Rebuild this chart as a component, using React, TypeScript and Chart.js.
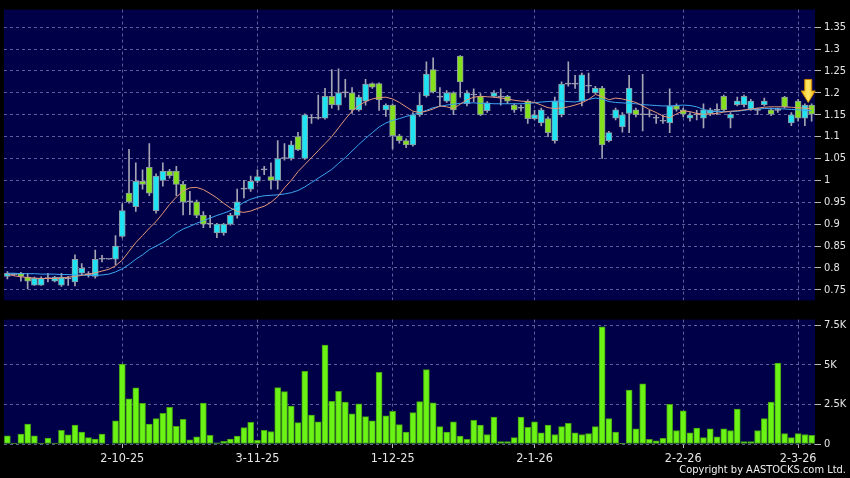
import React, { useEffect, useRef } from "react";
import { Chart, registerables } from "chart.js";

Chart.register(...registerables);

// ---- data (one entry per trading day, index 0..119) ----
const OPEN = [
  0.781, 0.785, 0.788, 0.779, 0.761, 0.761, 0.776, 0.770, 0.761, 0.775,
  0.768, 0.788, 0.785, 0.781, 0.820, 0.820, 0.820, 0.872, 0.971, 0.940,
  0.998, 1.030, 0.931, 1.000, 1.021, 1.021, 0.991, 0.951, 0.951, 0.920,
  0.900, 0.880, 0.880, 0.900, 0.920, 0.980, 0.980, 0.998, 1.024, 1.009,
  1.000, 1.050, 1.050, 1.100, 1.050, 1.142, 1.142, 1.142, 1.192, 1.172,
  1.200, 1.200, 1.161, 1.181, 1.221, 1.221, 1.161, 1.172, 1.102, 1.091,
  1.081, 1.150, 1.193, 1.253, 1.190, 1.181, 1.200, 1.284, 1.175, 1.195,
  1.192, 1.159, 1.192, 1.190, 1.192, 1.172, 1.165, 1.181, 1.141, 1.131,
  1.141, 1.091, 1.150, 1.220, 1.220, 1.181, 1.215, 1.200, 1.211, 1.091,
  1.142, 1.122, 1.153, 1.161, 1.150, 1.150, 1.142, 1.135, 1.131, 1.170,
  1.161, 1.142, 1.150, 1.142, 1.153, 1.160, 1.192, 1.142, 1.173, 1.173,
  1.162, 1.160, 1.173, 1.161, 1.160, 1.190, 1.131, 1.181, 1.142, 1.172,
];
const HIGH = [
  0.792, 0.787, 0.790, 0.788, 0.779, 0.780, 0.788, 0.781, 0.788, 0.781,
  0.830, 0.810, 0.792, 0.841, 0.829, 0.820, 0.874, 0.947, 1.071, 1.040,
  1.024, 1.084, 1.015, 1.040, 1.025, 1.032, 0.998, 0.975, 0.955, 0.929,
  0.920, 0.902, 0.902, 0.925, 0.980, 1.000, 1.010, 1.024, 1.032, 1.040,
  1.091, 1.084, 1.090, 1.110, 1.152, 1.150, 1.195, 1.210, 1.253, 1.255,
  1.231, 1.212, 1.195, 1.231, 1.223, 1.223, 1.175, 1.175, 1.105, 1.095,
  1.155, 1.198, 1.271, 1.280, 1.212, 1.205, 1.202, 1.285, 1.205, 1.209,
  1.198, 1.180, 1.205, 1.209, 1.194, 1.175, 1.172, 1.184, 1.160, 1.165,
  1.145, 1.190, 1.225, 1.271, 1.240, 1.245, 1.245, 1.215, 1.215, 1.112,
  1.165, 1.155, 1.240, 1.165, 1.242, 1.160, 1.150, 1.150, 1.209, 1.175,
  1.165, 1.155, 1.160, 1.175, 1.165, 1.175, 1.195, 1.155, 1.190, 1.195,
  1.185, 1.165, 1.188, 1.165, 1.165, 1.192, 1.155, 1.185, 1.175, 1.175,
];
const LOW = [
  0.775, 0.783, 0.770, 0.752, 0.760, 0.760, 0.768, 0.768, 0.758, 0.760,
  0.759, 0.785, 0.779, 0.777, 0.814, 0.820, 0.807, 0.870, 0.948, 0.929,
  0.980, 0.965, 0.925, 0.987, 1.005, 0.965, 0.921, 0.922, 0.915, 0.892,
  0.892, 0.869, 0.875, 0.898, 0.914, 0.960, 0.975, 0.995, 1.013, 0.980,
  0.980, 1.046, 1.046, 1.068, 1.048, 1.130, 1.140, 1.140, 1.165, 1.161,
  1.190, 1.153, 1.158, 1.172, 1.210, 1.160, 1.146, 1.072, 1.085, 1.075,
  1.078, 1.146, 1.190, 1.200, 1.170, 1.178, 1.150, 1.190, 1.170, 1.179,
  1.148, 1.155, 1.190, 1.172, 1.175, 1.155, 1.158, 1.130, 1.138, 1.125,
  1.100, 1.085, 1.145, 1.215, 1.210, 1.170, 1.200, 1.198, 1.050, 1.088,
  1.138, 1.110, 1.109, 1.145, 1.113, 1.145, 1.130, 1.130, 1.109, 1.158,
  1.145, 1.135, 1.138, 1.120, 1.148, 1.150, 1.158, 1.120, 1.170, 1.168,
  1.160, 1.150, 1.170, 1.148, 1.155, 1.165, 1.125, 1.135, 1.125, 1.135,
];
const CLOSE = [
  0.788, 0.785, 0.781, 0.770, 0.777, 0.777, 0.776, 0.779, 0.779, 0.775,
  0.820, 0.799, 0.785, 0.820, 0.820, 0.820, 0.850, 0.931, 0.951, 0.998,
  0.991, 0.971, 1.010, 1.021, 1.011, 0.991, 0.951, 0.951, 0.920, 0.900,
  0.900, 0.900, 0.900, 0.920, 0.951, 0.980, 0.998, 1.009, 1.024, 1.000,
  1.050, 1.050, 1.081, 1.070, 1.150, 1.142, 1.142, 1.192, 1.173, 1.200,
  1.200, 1.161, 1.190, 1.220, 1.213, 1.184, 1.172, 1.102, 1.091, 1.081,
  1.150, 1.172, 1.243, 1.202, 1.190, 1.200, 1.161, 1.225, 1.200, 1.195,
  1.150, 1.177, 1.200, 1.190, 1.181, 1.161, 1.165, 1.141, 1.150, 1.161,
  1.109, 1.181, 1.220, 1.220, 1.220, 1.241, 1.215, 1.211, 1.081, 1.109,
  1.161, 1.150, 1.211, 1.150, 1.150, 1.150, 1.142, 1.135, 1.170, 1.162,
  1.151, 1.149, 1.150, 1.161, 1.161, 1.160, 1.161, 1.151, 1.181, 1.192,
  1.181, 1.160, 1.181, 1.151, 1.160, 1.168, 1.150, 1.142, 1.172, 1.151,
];
const VOLUME_K = [
  0.52, 0.06, 0.62, 1.25, 0.52, 0.06, 0.37, 0.06, 0.87, 0.58,
  1.19, 0.75, 0.40, 0.31, 0.62, 0.00, 1.46, 5.04, 2.85, 3.54,
  2.56, 1.25, 1.60, 1.94, 2.31, 1.12, 1.56, 0.27, 0.46, 2.58,
  0.54, 0.08, 0.17, 0.31, 0.50, 1.04, 1.37, 0.23, 0.87, 0.79,
  3.56, 3.31, 2.40, 1.35, 4.58, 1.83, 1.40, 6.25, 2.70, 3.33,
  2.65, 1.90, 2.54, 1.73, 1.46, 4.52, 1.77, 2.06, 1.23, 0.75,
  1.98, 2.67, 4.69, 2.60, 1.10, 0.75, 1.40, 0.50, 0.30, 1.50,
  1.20, 0.60, 1.70, 0.15, 0.15, 0.40, 1.70, 1.05, 1.40, 0.70,
  1.20, 0.60, 1.10, 1.30, 0.70, 0.60, 0.65, 1.10, 7.40, 1.60,
  0.75, 0.02, 3.40, 0.95, 3.80, 0.30, 0.20, 0.35, 2.50, 0.85,
  2.10, 0.70, 1.00, 0.40, 0.95, 0.45, 0.95, 0.85, 2.20, 0.15,
  0.15, 0.85, 1.60, 2.65, 5.10, 0.65, 0.40, 0.65, 0.60, 0.55,
];
const MA_SHORT = [
  0.786, 0.782, 0.780, 0.778, 0.777, 0.776, 0.776, 0.776, 0.777, 0.779,
  0.781, 0.783, 0.786, 0.789, 0.793, 0.797, 0.805, 0.818, 0.838, 0.858,
  0.874, 0.891, 0.906, 0.925, 0.945, 0.962, 0.976, 0.983, 0.984, 0.979,
  0.970, 0.960, 0.948, 0.937, 0.929, 0.927, 0.930, 0.936, 0.941, 0.950,
  0.963, 0.983, 1.000, 1.020, 1.036, 1.052, 1.068, 1.084, 1.100, 1.120,
  1.140, 1.158, 1.171, 1.180, 1.186, 1.189, 1.190, 1.186, 1.178, 1.168,
  1.158, 1.155, 1.158, 1.163, 1.170, 1.168, 1.164, 1.174, 1.184, 1.190,
  1.192, 1.191, 1.190, 1.188, 1.186, 1.183, 1.181, 1.180, 1.178, 1.172,
  1.166, 1.164, 1.165, 1.168, 1.172, 1.177, 1.185, 1.196, 1.192, 1.184,
  1.188, 1.186, 1.182, 1.178, 1.170, 1.162, 1.155, 1.147, 1.143, 1.152,
  1.159, 1.157, 1.153, 1.151, 1.152, 1.153, 1.156, 1.158, 1.159, 1.161,
  1.163, 1.165, 1.167, 1.168, 1.168, 1.168, 1.167, 1.166, 1.165, 1.164,
];
const MA_LONG = [
  0.788, 0.788, 0.787, 0.787, 0.787, 0.786, 0.786, 0.786, 0.785, 0.785,
  0.784, 0.784, 0.783, 0.783, 0.784, 0.786, 0.791, 0.798, 0.808, 0.820,
  0.830, 0.842, 0.850, 0.858, 0.868, 0.880, 0.889, 0.895, 0.902, 0.908,
  0.914, 0.920, 0.925, 0.931, 0.940, 0.950, 0.957, 0.962, 0.965, 0.966,
  0.967, 0.969, 0.972, 0.977, 0.985, 0.995, 1.005, 1.015, 1.025, 1.039,
  1.052, 1.067, 1.082, 1.096, 1.109, 1.122, 1.131, 1.137, 1.141, 1.146,
  1.150, 1.155, 1.160, 1.166, 1.169, 1.172, 1.174, 1.176, 1.177, 1.177,
  1.176, 1.176, 1.175, 1.175, 1.175, 1.175, 1.175, 1.176, 1.177, 1.179,
  1.180, 1.181, 1.181, 1.180, 1.179, 1.182, 1.185, 1.188, 1.186, 1.180,
  1.178, 1.177, 1.176, 1.175, 1.173, 1.172, 1.171, 1.170, 1.170, 1.171,
  1.172, 1.171, 1.168, 1.162, 1.158, 1.157, 1.157, 1.157, 1.158, 1.160,
  1.162, 1.163, 1.164, 1.164, 1.164, 1.163, 1.162, 1.161, 1.160, 1.159,
];
const PRICE_TICKS = [1.35, 1.3, 1.25, 1.2, 1.15, 1.1, 1.05, 1.0, 0.95, 0.9, 0.85, 0.8, 0.75];
const VOLUME_TICKS = [0, 2.5, 5, 7.5];
const VOLUME_TICK_LABELS = ["0", "2.5K", "5K", "7.5K"];
const DATE_TICK_INDEX = [17, 37, 57, 78, 100, 117];
const DATE_TICK_LABELS = ["2-10-25", "3-11-25", "1-12-25", "2-1-26", "2-2-26", "2-3-26"];
const ARROW_INDEX = 118.5;
const ARROW_PRICE = 1.178;

// ---- styles ----
const NAVY = "#000048";
const GRID = "rgba(125,125,185,0.75)";
const UP = "#1fe3f2";
const DOWN = "#84e01c";
const WICK = "#a4a4b4";
const BODY_BORDER = "#8c98a0";
const VOL_FILL = "#6cf316";
const VOL_BORDER = "#44a212";
const MA_SHORT_COLOR = "#e3977a";
const MA_LONG_COLOR = "#3aa6f0";
const TEXT = "#e6e6e6";
const FONT = "'DejaVu Sans Condensed', 'DejaVu Sans', sans-serif";
const X_MIN = -0.5;
const X_MAX = 119.5;

const plotBg = {
  id: "plotBg",
  beforeDraw(chart: any) {
    const { ctx, chartArea } = chart;
    ctx.save();
    ctx.fillStyle = NAVY;
    ctx.fillRect(chartArea.left, chartArea.top, chartArea.right - chartArea.left, chartArea.bottom - chartArea.top);
    ctx.restore();
  },
};

const arrowMarker = {
  id: "arrowMarker",
  afterDatasetsDraw(chart: any) {
    const { ctx } = chart;
    const cx = chart.scales.x.getPixelForValue(ARROW_INDEX);
    const tip = chart.scales.y.getPixelForValue(ARROW_PRICE);
    const headH = 11.5;
    const shaftH = 11.5;
    const headW = 7;
    const shaftW = 3.5;
    ctx.save();
    ctx.beginPath();
    ctx.moveTo(cx - shaftW, tip - headH - shaftH);
    ctx.lineTo(cx + shaftW, tip - headH - shaftH);
    ctx.lineTo(cx + shaftW, tip - headH);
    ctx.lineTo(cx + headW, tip - headH);
    ctx.lineTo(cx, tip);
    ctx.lineTo(cx - headW, tip - headH);
    ctx.lineTo(cx - shaftW, tip - headH);
    ctx.closePath();
    const g = ctx.createLinearGradient(cx - headW, 0, cx + headW, 0);
    g.addColorStop(0, "#f7c21a");
    g.addColorStop(0.5, "#ffe866");
    g.addColorStop(1, "#f2b40c");
    ctx.fillStyle = g;
    ctx.fill();
    ctx.lineWidth = 1;
    ctx.strokeStyle = "#c98a00";
    ctx.stroke();
    ctx.restore();
  },
};

function bodyColor(i: number) {
  if (OPEN[i] === CLOSE[i]) return WICK;
  return CLOSE[i] > OPEN[i] ? UP : DOWN;
}

function xScale(withLabels: boolean) {
  return {
    type: "linear",
    min: X_MIN,
    max: X_MAX,
    offset: false,
    afterBuildTicks: (s: any) => {
      s.ticks = DATE_TICK_INDEX.map((v) => ({ value: v }));
    },
    afterFit: (s: any) => {
      s.height = withLabels ? 34 : 0;
    },
    ticks: withLabels
      ? {
          color: TEXT,
          autoSkip: false,
          maxRotation: 0,
          padding: 3,
          font: { family: FONT, size: 12.5 },
          callback: (_v: any, i: number) => DATE_TICK_LABELS[i],
        }
      : { display: false },
    grid: withLabels
      ? { color: GRID, offset: false, tickColor: "#b8b8b8", tickLength: 4, lineWidth: 1 }
      : { color: GRID, offset: false, drawTicks: false, lineWidth: 1 },
    border: { display: false, dash: [3, 3] },
  };
}

export default function App() {
  const priceRef = useRef<HTMLCanvasElement | null>(null);
  const volRef = useRef<HTMLCanvasElement | null>(null);

  useEffect(() => {
    const idx = OPEN.map((_, i) => i);
    const priceChart = new Chart(priceRef.current as HTMLCanvasElement, {
      type: "bar",
      data: {
        datasets: [
          {
            type: "line",
            data: idx.map((i) => ({ x: i, y: MA_SHORT[i] })),
            borderColor: MA_SHORT_COLOR,
            borderWidth: 1,
            pointRadius: 0,
            order: 0,
          } as any,
          {
            type: "line",
            data: idx.map((i) => ({ x: i, y: MA_LONG[i] })),
            borderColor: MA_LONG_COLOR,
            borderWidth: 1,
            pointRadius: 0,
            order: 0,
          } as any,
          {
            type: "bar",
            data: idx.map((i) => ({ x: i, y: [OPEN[i], CLOSE[i]] })),
            backgroundColor: idx.map(bodyColor),
            borderColor: idx.map((i) => (OPEN[i] === CLOSE[i] ? WICK : BODY_BORDER)),
            borderWidth: 1,
            borderSkipped: false,
            barThickness: 6,
            minBarLength: 1,
            grouped: false,
            order: 1,
          } as any,
          {
            type: "bar",
            data: idx.map((i) => ({ x: i, y: [LOW[i], HIGH[i]] })),
            backgroundColor: WICK,
            borderWidth: 0,
            barThickness: 1,
            grouped: false,
            order: 2,
          } as any,
        ],
      },
      options: {
        responsive: false,
        animation: false,
        devicePixelRatio: 1,
        layout: { padding: { left: 4, top: 5, right: 0, bottom: 5 } },
        plugins: { legend: { display: false }, tooltip: { enabled: false } },
        scales: {
          x: xScale(false),
          y: {
            type: "linear",
            position: "right",
            min: 0.726,
            max: 1.39,
            afterBuildTicks: (s: any) => {
              s.ticks = PRICE_TICKS.map((v) => ({ value: v }));
            },
            afterFit: (s: any) => {
              s.width = 35;
            },
            ticks: {
              color: TEXT,
              padding: 3,
              font: { family: FONT, size: 11 },
              callback: (v: any) => String(Number(Number(v).toFixed(2))),
            },
            grid: { color: GRID, tickColor: "#b8b8b8", tickLength: 6, lineWidth: 1 },
            border: { display: false, dash: [3, 3] },
          },
        },
      } as any,
      plugins: [plotBg, arrowMarker],
    });

    const volChart = new Chart(volRef.current as HTMLCanvasElement, {
      type: "bar",
      data: {
        datasets: [
          {
            data: idx.map((i) => ({ x: i, y: VOLUME_K[i] })),
            backgroundColor: VOL_FILL,
            borderColor: VOL_BORDER,
            borderWidth: 1,
            borderSkipped: false,
            barThickness: 6,
          } as any,
        ],
      },
      options: {
        responsive: false,
        animation: false,
        devicePixelRatio: 1,
        layout: { padding: { left: 4, top: 8, right: 0, bottom: 0 } },
        plugins: { legend: { display: false }, tooltip: { enabled: false } },
        scales: {
          x: xScale(true),
          y: {
            type: "linear",
            position: "right",
            min: 0,
            max: 7.85,
            afterBuildTicks: (s: any) => {
              s.ticks = VOLUME_TICKS.map((v) => ({ value: v }));
            },
            afterFit: (s: any) => {
              s.width = 35;
            },
            ticks: {
              color: TEXT,
              padding: 3,
              font: { family: FONT, size: 11 },
              callback: (_v: any, i: number) => VOLUME_TICK_LABELS[i],
            },
            grid: { color: GRID, tickColor: "#b8b8b8", tickLength: 6, lineWidth: 1 },
            border: { display: false, dash: [3, 3] },
          },
        },
      } as any,
      plugins: [plotBg],
    });

    return () => {
      priceChart.destroy();
      volChart.destroy();
    };
  }, []);

  return (
    <div
      style={{
        position: "absolute",
        left: 0,
        top: 0,
        width: 850,
        height: 478,
        background: "#000",
        overflow: "hidden",
      }}
    >
      <canvas ref={priceRef} width={850} height={310} style={{ position: "absolute", left: 0, top: 0 }} />
      <canvas ref={volRef} width={850} height={168} style={{ position: "absolute", left: 0, top: 310 }} />
      <div
        style={{
          position: "absolute",
          right: 4,
          top: 463,
          color: "#f0f0f0",
          font: `11px ${FONT}`,
          lineHeight: "14px",
          whiteSpace: "nowrap",
        }}
      >
        Copyright by AASTOCKS.com Ltd.
      </div>
    </div>
  );
}
